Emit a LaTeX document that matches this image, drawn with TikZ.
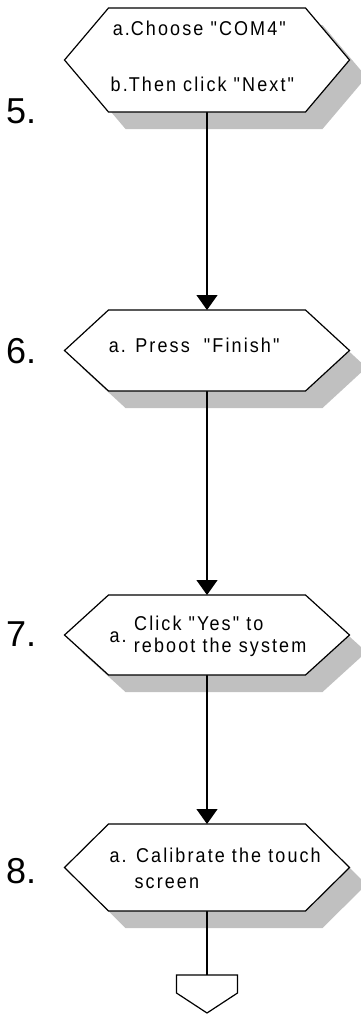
\documentclass[tikz,border=0pt]{standalone}
\usepackage{fontspec}
\setmainfont[LetterSpace=10.5,FakeStretch=0.9,Ligatures={NoCommon,TeXOff}]{Liberation Sans}
\newfontfamily\numfont{Liberation Sans}
\usetikzlibrary{arrows.meta}
\definecolor{shadowgray}{RGB}{192,192,192}
\tikzset{
  hexbox/.style={draw=none, minimum width=197pt, inner sep=0pt, outer sep=0pt},
  lbl/.style={font=\fontsize{20}{24}\selectfont, inner sep=0pt, anchor=base west},
  numlbl/.style={font=\numfont\fontsize{36}{40}\selectfont, inner sep=0pt, anchor=base west},
  conn/.style={line width=1.2pt, -{Triangle[width=21pt,length=15pt]}},
  plainconn/.style={line width=1.2pt},
  hexline/.style={line width=1.2pt, fill=white, line join=miter},
  shadowfill/.style={fill=shadowgray, draw=none},
}
\newcommand\hexshadow[1]{%
  \fill[shadowfill] ([shift={(17,17)}]#1.north west) -- ([shift={(17,17)}]#1.north east)
    -- ([shift={(61,17)}]#1.east) -- ([shift={(17,17)}]#1.south east)
    -- ([shift={(17,17)}]#1.south west) -- ([shift={(-27,17)}]#1.west) -- cycle;}
\newcommand\hexdraw[1]{%
  \draw[hexline] (#1.north west) -- (#1.north east) -- ([xshift=44pt]#1.east)
    -- (#1.south east) -- (#1.south west) -- ([xshift=-44pt]#1.west) -- cycle;}
\begin{document}
\begin{tikzpicture}[x=1pt,y=-1pt]
  \useasboundingbox (0,0) rectangle (361,1017);
  % invisible boxes carrying the hexagons
  \node[hexbox, minimum height=104pt] (h1) at (207,60) {};
  \node[hexbox, minimum height=81pt]  (h2) at (207,350.5) {};
  \node[hexbox, minimum height=80pt]  (h3) at (207,635) {};
  \node[hexbox, minimum height=87pt]  (h4) at (207,867.5) {};
  \node[draw=none, minimum width=61pt, minimum height=38pt, inner sep=0pt, outer sep=0pt] (off) at (207,994) {};
  % shadows
  \hexshadow{h1}
  \hexshadow{h2}
  \hexshadow{h3}
  \hexshadow{h4}
  % connectors
  \draw[conn] (h1.south) -- (h2.north);
  \draw[conn] (h2.south) -- (h3.north);
  \draw[conn] (h3.south) -- (h4.north);
  \draw[plainconn] (h4.south) -- (off.north);
  % hexagons
  \hexdraw{h1}
  \hexdraw{h2}
  \hexdraw{h3}
  \hexdraw{h4}
  % off-page connector
  \draw[hexline] (off.north west) -- (off.north east) -- ([yshift=20pt]off.south east)
    -- (off.south) -- ([yshift=20pt]off.south west) -- cycle;
  % step numbers
  \node[numlbl] (n5) at (6,123) {5.};
  \node[numlbl] (n6) at (6,363) {6.};
  \node[numlbl] (n7) at (6,646) {7.};
  \node[numlbl] (n8) at (6,883) {8.};
  % texts
  \node[lbl] (t1a) at (112.6,35.5) {a.\kern1pt Choose "COM4"};
  \node[lbl] (t1b) at (110.5,91) {b.\kern1pt Then click "Next"};
  \node[lbl] (t2)  at (108.6,352.7) {a. Press\ \ "Finish"};
  \node[lbl] (t3a) at (109.3,642) {a.};
  \node[lbl] (t3b) at (134,630) {Click "Yes" to};
  \node[lbl] (t3c) at (133.7,652) {reboot the system};
  \node[lbl] (t4a) at (109.3,862) {a. Calibrate the touch};
  \node[lbl] (t4b) at (134.4,888.5) {screen};
\end{tikzpicture}
\end{document}
